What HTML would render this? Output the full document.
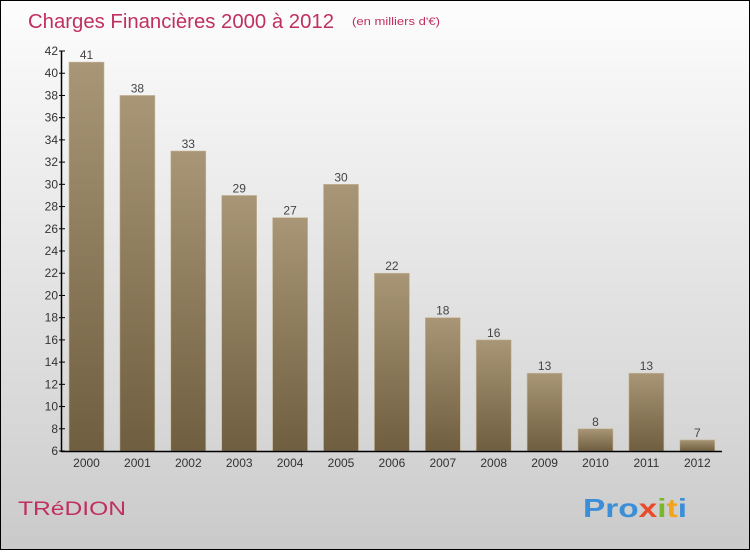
<!DOCTYPE html>
<html><head><meta charset="utf-8"><style>
body{margin:0;width:750px;height:550px;overflow:hidden}
#c{position:absolute;left:0;top:0;width:748px;height:548px;border:1px solid #000;background:linear-gradient(#fdfdfd,#f0f0f0 25%,#d8d8d8 75%,#cacaca)}
svg text{font-family:"Liberation Sans",sans-serif}
</style></head><body>
<div id="c">
<svg width="750" height="550" id="s">
<defs><linearGradient id="g" x1="0" y1="0" x2="0" y2="1"><stop offset="0" stop-color="#a89676"/><stop offset="1" stop-color="#6f5e3f"/></linearGradient></defs>
<text x="27" y="27" font-size="20" fill="#c0305f" textLength="306" lengthAdjust="spacingAndGlyphs">Charges Financières 2000 à 2012</text>
<text x="351" y="24" font-size="11" fill="#c0305f" textLength="88" lengthAdjust="spacingAndGlyphs">(en milliers d'€)</text>
<text x="17" y="514" font-size="19" fill="#c0305f" textLength="108" lengthAdjust="spacingAndGlyphs">TRéDION</text>
<text x="582" y="516" font-size="26" font-weight="bold" textLength="104" lengthAdjust="spacingAndGlyphs"><tspan fill="#3a8fd8">Pro</tspan><tspan fill="#e84a2a">x</tspan><tspan fill="#79b82a">i</tspan><tspan fill="#f2a51a">t</tspan><tspan fill="#3a8fd8">i</tspan></text>
<g id="plot"></g>
</svg></div>
<script>
const categories=["2000","2001","2002","2003","2004","2005","2006","2007","2008","2009","2010","2011","2012"];
const values=[41,38,33,29,27,30,22,18,16,13,8,13,7];
const yTicks=[6,8,10,12,14,16,18,20,22,24,26,28,30,32,34,36,38,40,42];
const ns="http://www.w3.org/2000/svg";
const p=document.getElementById('plot');
const y=v=>450-(v-6)*(400/36);
const x=i=>85.5+i*50.9;
function mk(t,a,txt){const e=document.createElementNS(ns,t);for(const k in a)e.setAttribute(k,a[k]);if(txt!==undefined)e.textContent=txt;p.appendChild(e);return e;}
categories.forEach((c,i)=>{
 const b=mk('rect',{x:x(i)-17.5,y:y(values[i]),width:35,height:450-y(values[i]),fill:'url(#g)',stroke:'#c9b99a','stroke-width':0.6});
 
 
 const l=mk('text',{x:x(i),y:y(values[i])-3,'font-size':12,fill:'#444','text-anchor':'middle'},values[i]);
 
 
 const t=mk('text',{x:x(i),y:466,'font-size':12,fill:'#333','text-anchor':'middle'},c);
 
 
});
yTicks.forEach(v=>{
 const tk=mk('line',{x1:58,x2:64,y1:y(v),y2:y(v),stroke:'#000'});
 
 
 const t=mk('text',{x:57,y:y(v)+4,'font-size':12,fill:'#333','text-anchor':'end'},v);
 
 
});
const ya=mk('line',{x1:60.5,x2:60.5,y1:y(42),y2:451,stroke:'#000','stroke-width':1.5});


const xa=mk('line',{x1:60,x2:721,y1:450.5,y2:450.5,stroke:'#000','stroke-width':1.5});


</script>
</body></html>
